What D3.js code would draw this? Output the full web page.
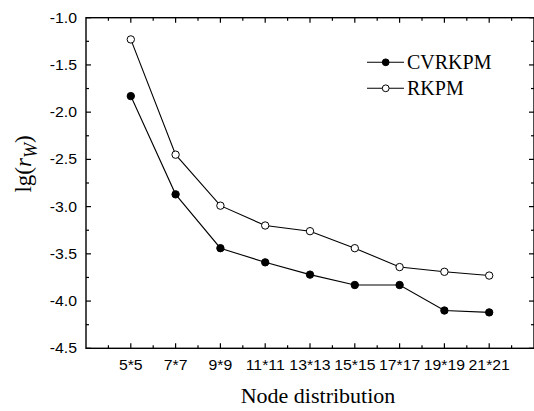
<!DOCTYPE html>
<html>
<head>
<meta charset="utf-8">
<script src="https://cdn.jsdelivr.net/npm/d3@7/dist/d3.min.js"></script>
<style>
  html, body { margin: 0; padding: 0; background: #fff; }
  svg { display: block; }
</style>
</head>
<body>
<svg id="chart" width="534" height="411"></svg>
<script>
// Node layouts on the horizontal axis
const categories = ["5*5", "7*7", "9*9", "11*11", "13*13", "15*15", "17*17", "19*19", "21*21"];
// lg(r_W) error norms for each method
const cvrkpm = [-1.83, -2.87, -3.44, -3.59, -3.72, -3.83, -3.83, -4.10, -4.12];
const rkpm   = [-1.23, -2.45, -2.99, -3.20, -3.26, -3.44, -3.64, -3.69, -3.73];
const yTicks = [-1.0, -1.5, -2.0, -2.5, -3.0, -3.5, -4.0, -4.5];

const svg = d3.select("#chart");
const L = 86, R = 534, T = 17.7, B = 348.3;

const x = d3.scaleLinear().domain([-1, 9]).range([L, R]);
const y = d3.scaleLinear().domain([-4.5, -1.0]).range([B, T]);

const sans = "'Liberation Sans', Arial, sans-serif";
const serif = "'Liberation Serif', 'Times New Roman', serif";
const stretch = 1.13;

// Frame
const frame = svg.append("g");
frame.append("rect").attr("x", L).attr("y", T).attr("width", R - L).attr("height", B - T)
  .attr("fill", "none").attr("stroke", "#000").attr("stroke-width", 1.4);

// Inward ticks: majors on categories / half units, minors in between
const xMajor = d3.range(0, 9);
const xMinor = d3.range(-0.5, 9, 1);
const yMajor = yTicks;
const yMinor = d3.range(-1.25, -4.5, -0.5);

function tickLines(vals, len, horiz) {
  vals.forEach(v => {
    if (horiz) {
      const px = x(v);
      frame.append("line").attr("x1", px).attr("x2", px).attr("y1", B).attr("y2", B - len)
        .attr("stroke", "#000").attr("stroke-width", 1.2);
      frame.append("line").attr("x1", px).attr("x2", px).attr("y1", T).attr("y2", T + len)
        .attr("stroke", "#000").attr("stroke-width", 1.2);
    } else {
      const py = y(v);
      frame.append("line").attr("x1", L).attr("x2", L + len).attr("y1", py).attr("y2", py)
        .attr("stroke", "#000").attr("stroke-width", 1.2);
      frame.append("line").attr("x1", R).attr("x2", R - len).attr("y1", py).attr("y2", py)
        .attr("stroke", "#000").attr("stroke-width", 1.2);
    }
  });
}
tickLines(xMajor, 5, true);
tickLines(xMinor, 3, true);
tickLines(yMajor, 5, false);
tickLines(yMinor, 3, false);

// Tick labels (slightly widened sans face)
svg.append("g").selectAll("text").data(categories).join("text")
  .attr("transform", (d, i) => `translate(${x(i)},370.3) scale(${stretch},1)`)
  .attr("text-anchor", "middle")
  .attr("font-family", sans).attr("font-size", 14)
  .text(d => d);

svg.append("g").selectAll("text").data(yTicks).join("text")
  .attr("transform", d => `translate(77,${y(d) + 5}) scale(${stretch},1)`)
  .attr("text-anchor", "end")
  .attr("font-family", sans).attr("font-size", 14)
  .text(d => d.toFixed(1));

// Axis titles
svg.append("text").attr("x", 318).attr("y", 403)
  .attr("text-anchor", "middle").attr("font-family", serif).attr("font-size", 22)
  .text("Node distribution");

const yl = svg.append("text")
  .attr("transform", "translate(31,164) rotate(-90)")
  .attr("text-anchor", "middle").attr("font-family", serif).attr("font-size", 23);
yl.append("tspan").text("lg(");
yl.append("tspan").attr("font-style", "italic").text("r");
yl.append("tspan").attr("font-style", "italic").attr("font-size", 18).attr("dy", 6).text("W");
yl.append("tspan").attr("dy", -6).text(")");

// Series
const line = d3.line().x((d, i) => x(i)).y(d => y(d));
const series = [
  { name: "CVRKPM", values: cvrkpm, fill: "#000" },
  { name: "RKPM", values: rkpm, fill: "#fff" }
];

series.forEach(s => {
  svg.append("path").datum(s.values).attr("d", line)
    .attr("fill", "none").attr("stroke", "#000").attr("stroke-width", 1.1);
  svg.append("g").selectAll("circle").data(s.values).join("circle")
    .attr("cx", (d, i) => x(i)).attr("cy", d => y(d)).attr("r", 3.7)
    .attr("fill", s.fill).attr("stroke", "#000").attr("stroke-width", 1);
});

// Legend
const legend = svg.append("g");
series.forEach((s, k) => {
  const ly = 62.3 + k * 26;
  legend.append("line").attr("x1", 367).attr("x2", 404).attr("y1", ly).attr("y2", ly)
    .attr("stroke", "#000").attr("stroke-width", 1.1);
  legend.append("circle").attr("cx", 385.7).attr("cy", ly).attr("r", 3.4)
    .attr("fill", s.fill).attr("stroke", "#000").attr("stroke-width", 1);
  legend.append("text").attr("x", 407).attr("y", ly + 6.8)
    .attr("font-family", serif).attr("font-size", 20)
    .text(s.name);
});
</script>
</body>
</html>
